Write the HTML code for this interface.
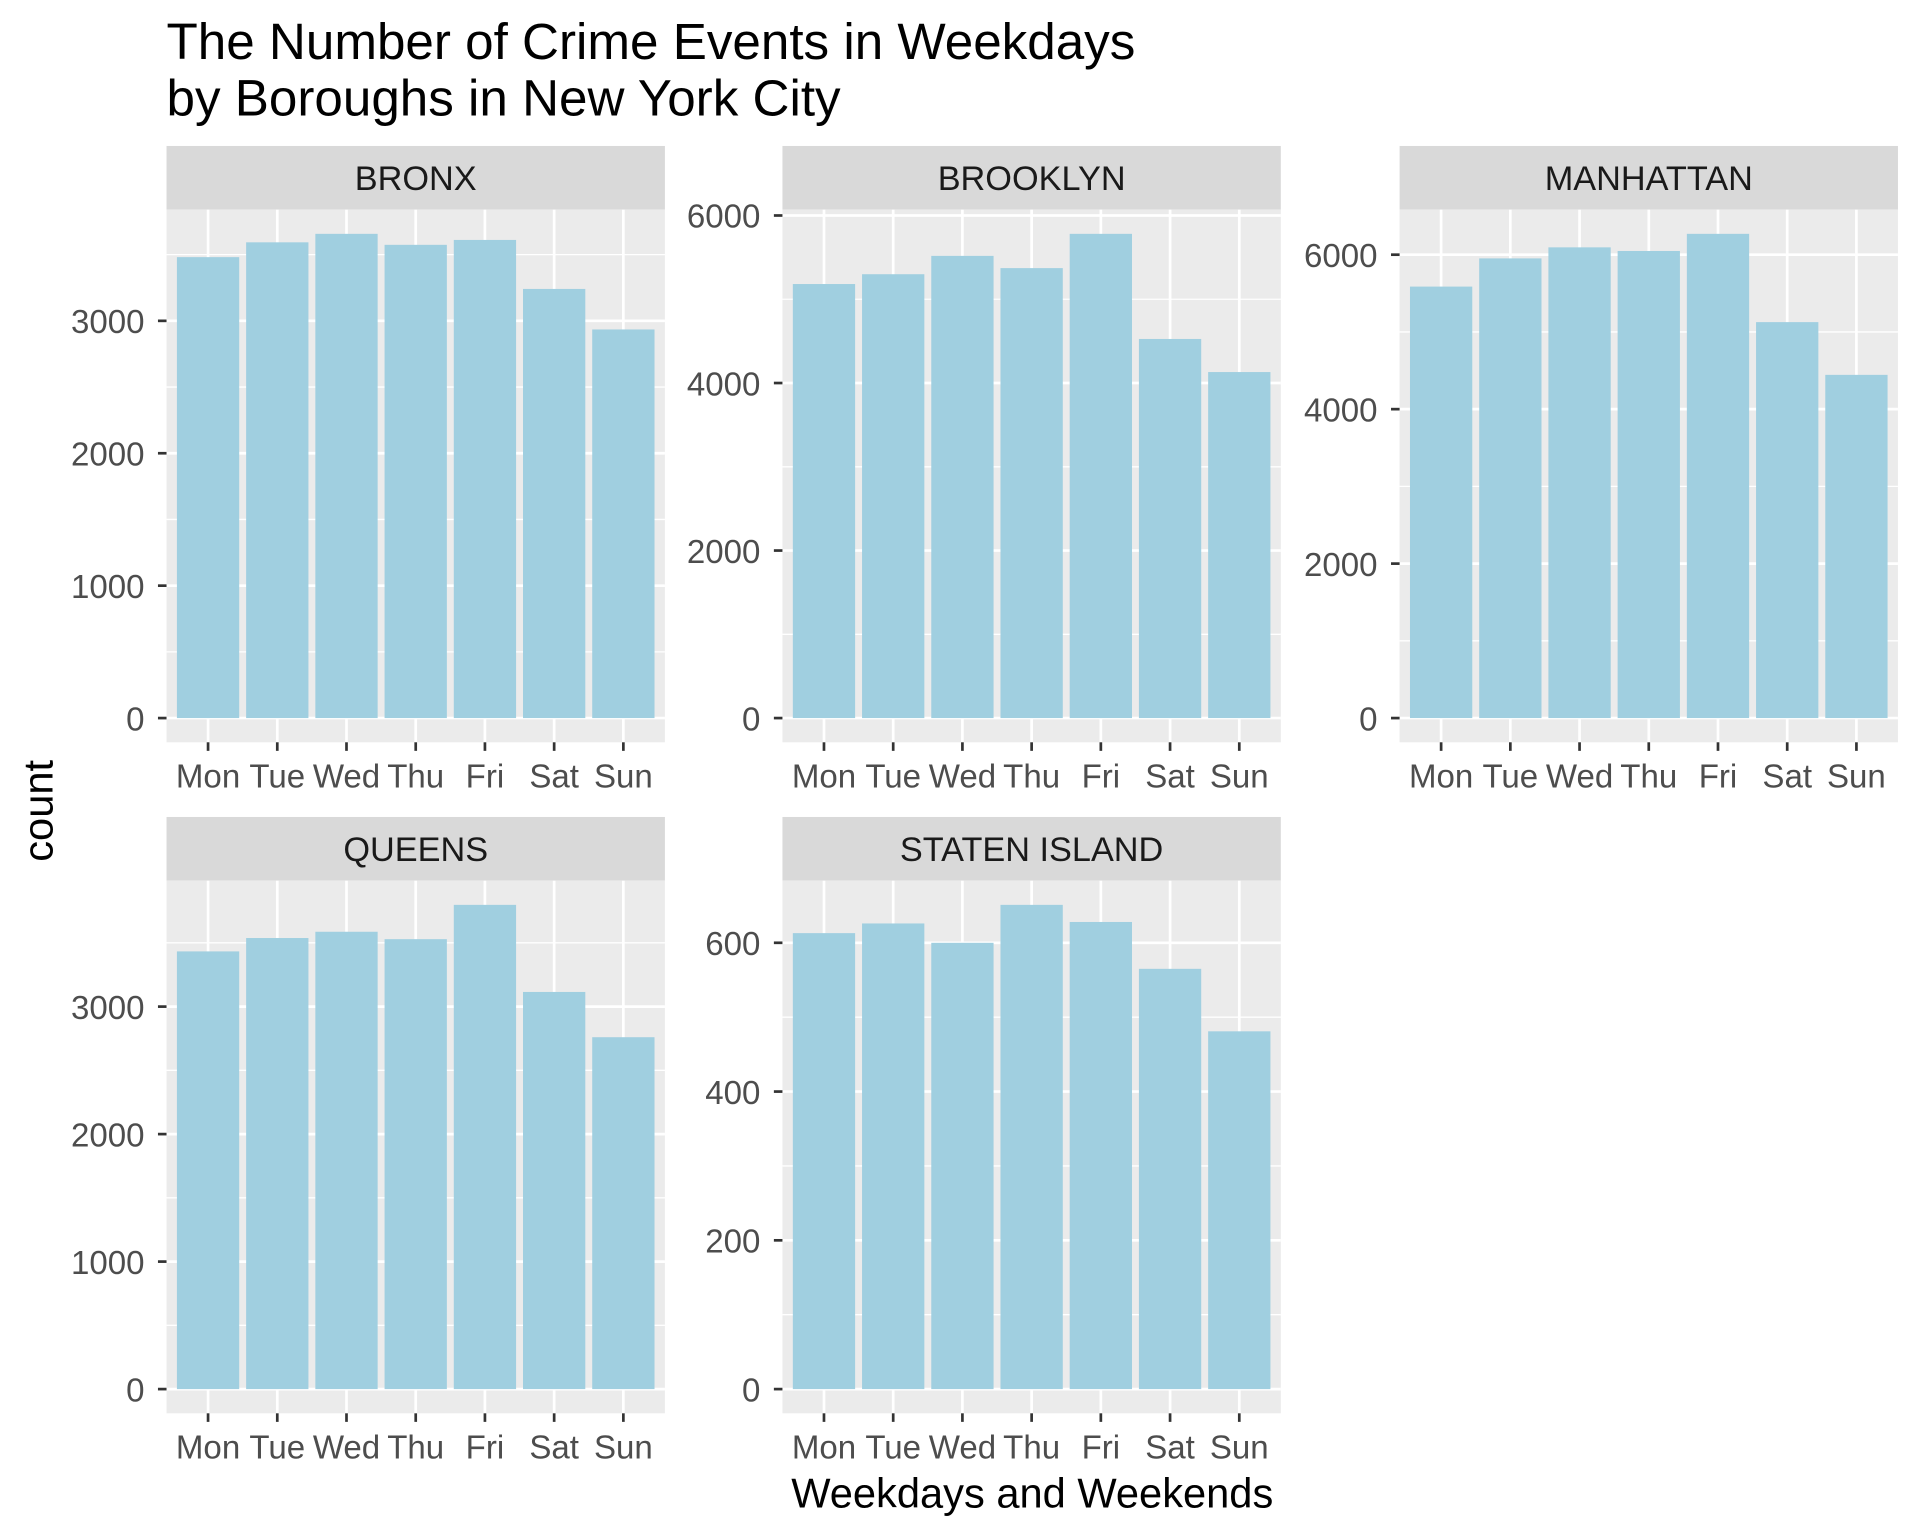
<!DOCTYPE html>
<html><head><meta charset="utf-8"><style>
html,body{margin:0;padding:0;background:#fff;}
svg{display:block;font-family:"Liberation Sans",Arial,sans-serif;}
</style></head><body>
<svg id="chart" width="1920" height="1536" viewBox="0 0 1568 1254" xmlns="http://www.w3.org/2000/svg">
<rect width="1568" height="1254" fill="#fff"/>
<text x="136" y="48" font-size="41.8" fill="#000">The Number of Crime Events in Weekdays</text>
<text x="136" y="94" font-size="41.8" fill="#000">by Boroughs in New York City</text>
<text transform="translate(43,662) rotate(-90)" text-anchor="middle" font-size="34" fill="#000">count</text>
<text x="843" y="1231" text-anchor="middle" font-size="34" fill="#000">Weekdays and Weekends</text>
<g id="panels"></g>
</svg>
<script>
const days = ["Mon","Tue","Wed","Thu","Fri","Sat","Sun"];
const boroughs = ["BRONX","BROOKLYN","MANHATTAN","QUEENS","STATEN ISLAND"];
const bronx = [3481,3593,3657,3574,3611,3241,2935];
const brooklyn = [5182,5299,5518,5372,5781,4526,4131];
const manhattan = [5587,5952,6095,6048,6270,5127,4444];
const queens = [3433,3538,3587,3529,3798,3115,2760];
const statenIsland = [613,626,600,651,628,565,481];
const tickStep = [1000,2000,2000,1000,200];
const seriesList = [bronx,brooklyn,manhattan,queens,statenIsland];
const NS="http://www.w3.org/2000/svg";
const root=document.getElementById('panels');
function mk(tag,attrs,parent){const e=document.createElementNS(NS,tag);for(const k in attrs)e.setAttribute(k,attrs[k]);parent.appendChild(e);return e;}
const lefts=[136,639,1143], tops=[119,667];
boroughs.forEach((name,i)=>{
  const vals=seriesList[i];
  const px=lefts[i%3], py=tops[Math.floor(i/3)];
  const w=407, stripH=52, top=py+stripH, bottom=py+487;
  const g=mk('g',{},root);
  
  
  const strip=mk('rect',{x:px,y:py,width:w,height:stripH,fill:'#d9d9d9'},g);
  
  
  const st=mk('text',{x:px+w/2,y:py+36,'text-anchor':'middle','font-size':28,fill:'#1a1a1a'},g);
  st.textContent=name;
  
  
  const bg=mk('rect',{x:px,y:top,width:w,height:bottom-top,fill:'#ebebeb'},g);
  
  
  const mx=Math.max(...vals), lo=-0.05*mx, hi=1.05*mx;
  const y=v=>bottom-(v-lo)/(hi-lo)*(bottom-top);
  const unit=w/7.2;
  const x=k=>px+(k+0.6)*unit;
  const step=tickStep[i];
  for(let v=step/2;v<hi;v+=step){mk('line',{x1:px,x2:px+w,y1:y(v),y2:y(v),stroke:'#fff','stroke-width':1.1},g);}
  for(let v=0;v<hi;v+=step){
    mk('line',{x1:px,x2:px+w,y1:y(v),y2:y(v),stroke:'#fff','stroke-width':2.2},g);
    mk('line',{x1:px-7,x2:px,y1:y(v),y2:y(v),stroke:'#333','stroke-width':2.2},g);
    const t=mk('text',{x:px-18,y:y(v)+10,'text-anchor':'end','font-size':27,fill:'#4d4d4d'},g);
    t.textContent=v;
    
    
  }
  days.forEach((d,k)=>{
    mk('line',{x1:x(k),x2:x(k),y1:top,y2:bottom,stroke:'#fff','stroke-width':2.2},g);
  });
  days.forEach((d,k)=>{
    const b=mk('rect',{x:x(k)-0.45*unit,y:y(vals[k]),width:0.9*unit,height:y(0)-y(vals[k]),fill:'#a0cfe0'},g);
    
    
    mk('line',{x1:x(k),x2:x(k),y1:bottom,y2:bottom+7,stroke:'#333','stroke-width':2.2},g);
    const t=mk('text',{x:x(k),y:bottom+37,'text-anchor':'middle','font-size':27,fill:'#4d4d4d'},g);
    t.textContent=d;
    
    
  });
});
</script>
</body></html>
